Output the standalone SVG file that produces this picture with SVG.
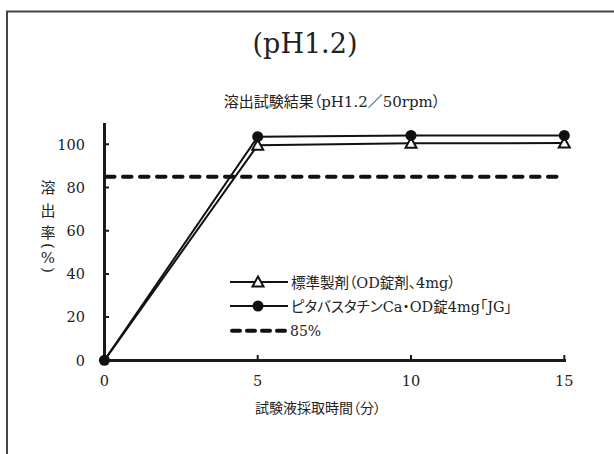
<svg xmlns="http://www.w3.org/2000/svg" width="614" height="454" viewBox="0 0 614 454">
<style>
.t{font-family:'DejaVu Serif','Noto Sans CJK JP',serif;fill:#222;font-feature-settings:"palt"}
.ax{stroke:#1a1a1a;stroke-width:3;fill:none}
.tk{stroke:#1a1a1a;stroke-width:2;fill:none}
.ln{stroke:#111;stroke-width:2;fill:none}
.dash{stroke:#111;stroke-width:4;fill:none;stroke-linecap:round;stroke-dasharray:8.5 8.5}
.tri{fill:#fff;stroke:#111;stroke-width:2}
.dot{fill:#111}
</style>
<defs>
<path id="triM" d="M0,-5.5 L5.5,4.5 L-5.5,4.5 Z"/>
</defs>
<rect x="7" y="11.5" width="640" height="480" fill="none" stroke="#444" stroke-width="2"/>
<g id="title">
<text class="t" x="305" y="53" font-size="27" text-anchor="middle">(pH1.2)</text>
<text class="t" x="332" y="107" font-size="15" text-anchor="middle">溶出試験結果（pH1.2／50rpm）</text>
</g>
<g id="axes">
<line class="ax" x1="104.5" y1="123" x2="104.5" y2="362"/>
<line class="ax" x1="103" y1="360.5" x2="566" y2="360.5"/>
<path class="tk" d="M104.5,317.1H109M104.5,273.9H109M104.5,230.7H109M104.5,187.5H109M104.5,144.3H109"/>
<path class="tk" d="M257.7,360H257.7V355M411,360V355M564.3,360V355"/>
</g>
<g id="ylabels" class="t" font-size="14.5" text-anchor="end">
<text x="85" y="365.5">0</text>
<text x="85" y="322.3">20</text>
<text x="85" y="279.1">40</text>
<text x="85" y="235.9">60</text>
<text x="85" y="192.7">80</text>
<text x="85" y="149.5">100</text>
</g>
<g id="xlabels" class="t" font-size="14.5" text-anchor="middle">
<text x="104.4" y="386">0</text>
<text x="257.7" y="386">5</text>
<text x="411" y="386">10</text>
<text x="564.3" y="386">15</text>
</g>
<g id="yaxis-title" class="t" font-size="15" text-anchor="middle">
<text x="48" y="193">溶</text>
<text x="48" y="215.5">出</text>
<text x="48" y="237.5">率</text>
<text x="48" y="246" transform="rotate(90 48 246)" dy="5">(</text>
<text x="48" y="263">%</text>
<text x="48" y="270" transform="rotate(90 48 270)" dy="5">)</text>
</g>
<g id="xaxis-title">
<text class="t" x="318" y="413" font-size="14" text-anchor="middle">試験液採取時間（分）</text>
</g>
<g id="connectors">
<line class="dash" x1="106" y1="176.7" x2="558" y2="176.7"/>
<polyline class="ln" points="104.4,360.3 257.7,145.2 411,143.3 564.3,143.1"/>
<polyline class="ln" points="104.4,360.3 257.7,136.7 411,135.4 564.3,135.4"/>
</g>
<g id="series-standard">
<use href="#triM" class="tri" x="257.7" y="145.2"/>
<use href="#triM" class="tri" x="411" y="143.3"/>
<use href="#triM" class="tri" x="564.3" y="143.1"/>
</g>
<g id="series-pitavastatin">
<circle class="dot" cx="104.4" cy="360.3" r="5.5"/>
<circle class="dot" cx="257.7" cy="136.7" r="5.5"/>
<circle class="dot" cx="411" cy="135.4" r="5.5"/>
<circle class="dot" cx="564.3" cy="135.4" r="5.5"/>
</g>
<g id="legend">
<line class="ln" x1="230" y1="282" x2="288" y2="282"/>
<use href="#triM" class="tri" x="258" y="282"/>
<text class="t" x="291" y="288" font-size="14.5">標準製剤（OD錠剤、4mg）</text>
<line class="ln" x1="230" y1="306" x2="288" y2="306"/>
<circle class="dot" cx="258" cy="306" r="5.5"/>
<text class="t" x="291" y="312" font-size="14.5">ピタバスタチンCa・OD錠4mg「JG」</text>
<line class="dash" x1="232" y1="330.7" x2="285" y2="330.7" style="stroke-dasharray:8 7"/>
<text class="t" x="290" y="336" font-size="14">85%</text>
</g>
</svg>
